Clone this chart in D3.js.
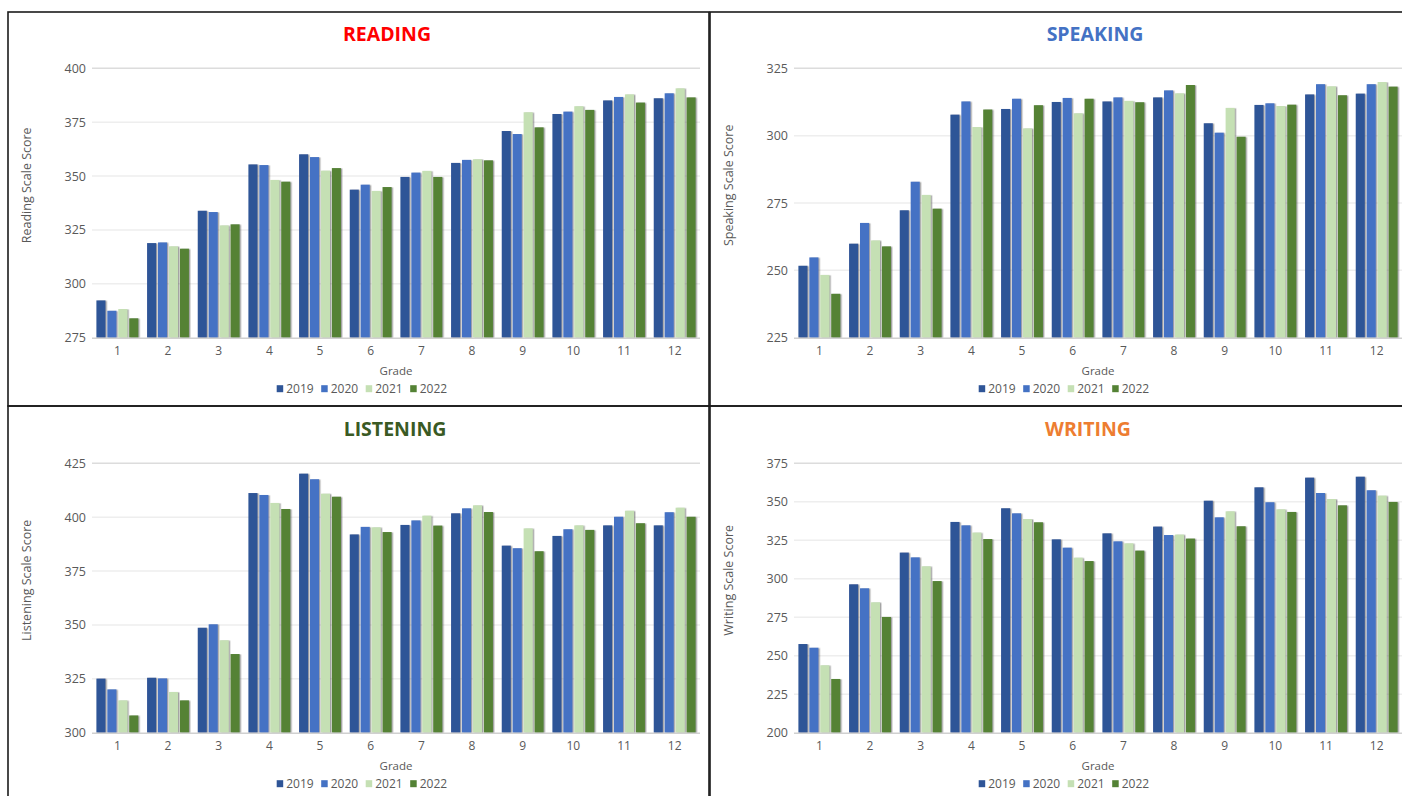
<!DOCTYPE html>
<html>
<head>
<meta charset="utf-8">
<script src="https://cdn.jsdelivr.net/npm/d3@7"></script>
<style>
  body { margin: 0; background: #fff; }
  svg { display: block; font-family: "Open Sans", Lato, sans-serif; }
</style>
</head>
<body>
<svg id="chart" width="1402" height="796"></svg>
<script>
// Grades on the x axis and the four test years shown as grouped bars
const grades = ["1", "2", "3", "4", "5", "6", "7", "8", "9", "10", "11", "12"];
const years = ["2019", "2020", "2021", "2022"];
const yearColors = ["#2F5597", "#4472C4", "#C5E0B4", "#548235"];

// Mean scale scores, one row per year (2019, 2020, 2021, 2022), grades 1-12
const readingScores = [
  [292.3, 318.9, 333.9, 355.4, 360.1, 343.7, 349.6, 356.1, 370.9, 378.8, 385.1, 386.1],
  [287.5, 319.2, 333.3, 355.1, 358.8, 346.0, 351.6, 357.5, 369.5, 379.9, 386.7, 388.4],
  [288.3, 317.4, 327.1, 348.2, 352.5, 343.1, 352.4, 357.8, 379.6, 382.4, 387.9, 390.7],
  [284.0, 316.3, 327.6, 347.4, 353.7, 344.9, 349.6, 357.3, 372.6, 380.7, 384.1, 386.5]
];
const speakingScores = [
  [251.7, 259.9, 272.3, 307.8, 309.9, 312.5, 312.7, 314.2, 304.6, 311.4, 315.3, 315.6],
  [254.8, 267.6, 282.9, 312.7, 313.7, 314.0, 314.2, 316.8, 301.1, 312.0, 319.1, 319.1],
  [248.3, 261.1, 278.0, 303.2, 302.7, 308.3, 312.9, 315.7, 310.3, 311.0, 318.3, 319.9],
  [241.3, 258.9, 272.9, 309.7, 311.3, 313.7, 312.4, 318.8, 299.6, 311.5, 315.0, 318.2]
];
const listeningScores = [
  [325.1, 325.5, 348.7, 411.2, 420.2, 392.0, 396.4, 401.8, 386.8, 391.3, 396.2, 396.2],
  [320.1, 325.2, 350.3, 410.3, 417.6, 395.5, 398.5, 404.1, 385.6, 394.4, 400.2, 402.3],
  [315.0, 318.9, 342.9, 406.6, 410.9, 395.3, 400.7, 405.5, 394.8, 396.2, 403.0, 404.4],
  [308.0, 315.0, 336.5, 403.8, 409.5, 393.1, 396.1, 402.4, 384.2, 394.1, 397.2, 400.2]
];
const writingScores = [
  [257.6, 296.4, 317.0, 336.9, 345.8, 325.6, 329.5, 333.9, 350.7, 359.4, 365.7, 366.3],
  [255.2, 293.8, 313.9, 334.7, 342.5, 320.2, 324.3, 328.4, 339.9, 349.7, 355.7, 357.5],
  [243.8, 284.7, 308.1, 330.0, 338.8, 313.7, 323.0, 328.7, 343.8, 345.1, 351.8, 354.0],
  [234.9, 275.2, 298.5, 325.8, 336.7, 311.5, 318.3, 326.1, 334.1, 343.4, 347.7, 349.9]
];

// Y-axis tick values for each panel
const readingTicks = [275, 300, 325, 350, 375, 400];
const speakingTicks = [225, 250, 275, 300, 325];
const listeningTicks = [300, 325, 350, 375, 400, 425];
const writingTicks = [200, 225, 250, 275, 300, 325, 350, 375];

const panels = [
  { title: "READING",   titleColor: "#FF0000", yLabel: "Reading Scale Score",   scores: readingScores,   ticks: readingTicks,   left: 8,   top: 12,  titleX: 387 },
  { title: "SPEAKING",  titleColor: "#4472C4", yLabel: "Speaking Scale Score",  scores: speakingScores,  ticks: speakingTicks,  left: 710, top: 12,  titleX: 1095 },
  { title: "LISTENING", titleColor: "#3A5A24", yLabel: "Listening Scale Score", scores: listeningScores, ticks: listeningTicks, left: 8,   top: 407, titleX: 395 },
  { title: "WRITING",   titleColor: "#ED7D31", yLabel: "Writing Scale Score",   scores: writingScores,   ticks: writingTicks,   left: 710, top: 407, titleX: 1088 }
];

const svg = d3.select("#chart");

// soft shadow on the right edge of each bar
const defs = svg.append("defs");
const shadow = defs.append("filter").attr("id", "barShadow")
  .attr("x", "-20%").attr("y", "-5%").attr("width", "160%").attr("height", "115%");
shadow.append("feDropShadow")
  .attr("dx", 1.4).attr("dy", 0.4).attr("stdDeviation", 0.7)
  .attr("flood-color", "#555").attr("flood-opacity", 0.55);

const textGrey = "#595959";

panels.forEach(p => {
  const g = svg.append("g");
  const plotLeft = p.left + 84;
  const plotRight = p.left + 692;
  const plotTop = p.top + 56.3;
  const plotBottom = p.top + 325.7;

  // panel frame
  g.append("rect")
    .attr("x", p.left).attr("y", p.top - (p.top > 100 ? 1 : 0))
    .attr("width", 701).attr("height", 394)
    .attr("fill", "none").attr("stroke", "#1b1b1b").attr("stroke-width", 1.6);

  const x0 = d3.scaleBand().domain(grades).range([plotLeft, plotRight]).padding(0);
  const x1 = d3.scaleBand().domain(years)
    .range([4.4, x0.bandwidth() - 4.4]).paddingInner(0.17).paddingOuter(0);
  const y = d3.scaleLinear()
    .domain([p.ticks[0], p.ticks[p.ticks.length - 1]])
    .range([plotBottom, plotTop]);

  // gridlines
  g.append("g").selectAll("line").data(p.ticks.slice(1)).join("line")
    .attr("x1", plotLeft).attr("x2", plotRight)
    .attr("y1", d => y(d)).attr("y2", d => y(d))
    .attr("stroke", (d, i, n) => i === n.length - 1 ? "#dcdcdc" : "#eeeeee")
    .attr("stroke-width", 1.5);

  // y axis labels
  const yAxis = d3.axisLeft(y).tickValues(p.ticks).tickSize(0).tickPadding(6);
  const ya = g.append("g").attr("transform", `translate(${plotLeft},0)`).call(yAxis);
  ya.select(".domain").remove();
  ya.selectAll("text").attr("fill", textGrey).attr("font-size", 12.5)
    .attr("font-family", "'Open Sans', sans-serif");

  // bars
  const groups = g.append("g").selectAll("g").data(grades).join("g")
    .attr("transform", d => `translate(${x0(d)},0)`);
  groups.selectAll("rect")
    .data((d, gi) => years.map((yr, yi) => ({ year: yr, yi, value: p.scores[yi][gi] })))
    .join("rect")
    .attr("x", d => x1(d.year))
    .attr("width", x1.bandwidth())
    .attr("y", d => y(d.value))
    .attr("height", d => plotBottom - y(d.value))
    .attr("fill", d => yearColors[d.yi])
    .attr("filter", "url(#barShadow)");

  // baseline
  g.append("line")
    .attr("x1", plotLeft).attr("x2", plotRight)
    .attr("y1", plotBottom + 0.5).attr("y2", plotBottom + 0.5)
    .attr("stroke", "#d0d0d0").attr("stroke-width", 1.5);

  // x axis labels
  const xAxis = d3.axisBottom(x0).tickSize(0).tickPadding(9);
  const xa = g.append("g").attr("transform", `translate(0,${plotBottom})`).call(xAxis);
  xa.select(".domain").remove();
  xa.selectAll("text").attr("fill", textGrey).attr("font-size", 12)
    .attr("font-family", "'Open Sans', sans-serif");

  // axis titles
  g.append("text")
    .attr("x", (plotLeft + plotRight) / 2).attr("y", plotBottom + 37)
    .attr("text-anchor", "middle").attr("fill", textGrey).attr("font-size", 11.5)
    .text("Grade");
  g.append("text")
    .attr("transform", `translate(${p.left + 23},${plotTop + 117}) rotate(-90)`)
    .attr("text-anchor", "middle").attr("fill", textGrey).attr("font-size", 12.5)
    .text(p.yLabel);

  // chart title
  g.append("text")
    .attr("x", p.titleX).attr("y", p.top + 29)
    .attr("text-anchor", "middle").attr("fill", p.titleColor)
    .attr("font-size", 19.5).attr("font-weight", 700)
    .text(p.title);

  // legend
  const legendStart = p.left + 268.7;
  const lg = g.append("g").attr("transform", `translate(${legendStart},${plotBottom + 51})`);
  const items = lg.selectAll("g").data(years).join("g")
    .attr("transform", (d, i) => `translate(${i * 44.5},0)`);
  items.append("rect").attr("x", 0).attr("y", -3.5).attr("width", 6.5).attr("height", 7)
    .attr("fill", (d, i) => yearColors[i]);
  items.append("text").attr("x", 9.5).attr("y", 4.3)
    .attr("fill", textGrey).attr("font-size", 12).text(d => d);
});
</script>
</body>
</html>
